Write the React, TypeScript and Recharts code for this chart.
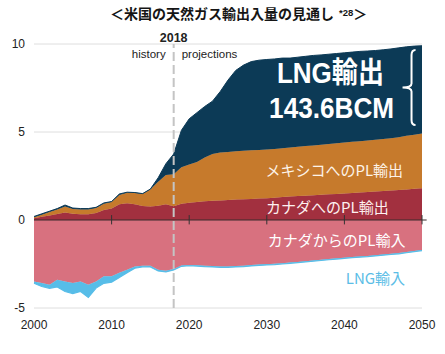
import React from "react";
import {
  AreaChart,
  Area,
  XAxis,
  YAxis,
  CartesianGrid,
  ReferenceLine,
  ReferenceDot,
} from "recharts";

const years = [
  2000, 2001, 2002, 2003, 2004, 2005, 2006, 2007, 2008, 2009,
  2010, 2011, 2012, 2013, 2014, 2015, 2016, 2017, 2018, 2019,
  2020, 2021, 2022, 2023, 2024, 2025, 2026, 2027, 2028, 2029,
  2030, 2031, 2032, 2033, 2034, 2035, 2036, 2037, 2038, 2039,
  2040, 2041, 2042, 2043, 2044, 2045, 2046, 2047, 2048, 2049,
  2050,
];

// exports (positive)
const canadaExport = [
  0.10, 0.18, 0.26, 0.34, 0.42, 0.35, 0.33, 0.33, 0.40, 0.57,
  0.66, 0.90, 0.95, 0.90, 0.80, 0.76, 0.81, 0.90, 0.78, 0.92,
  0.98, 1.02, 1.06, 1.09, 1.11, 1.14, 1.16, 1.18, 1.20, 1.22,
  1.24, 1.27, 1.30, 1.33, 1.36, 1.38, 1.41, 1.43, 1.46, 1.48,
  1.50, 1.53, 1.56, 1.59, 1.62, 1.65, 1.68, 1.71, 1.74, 1.77,
  1.80,
];
const mexicoExport = [
  0.05, 0.12, 0.19, 0.26, 0.34, 0.27, 0.27, 0.27, 0.28, 0.35,
  0.36, 0.52, 0.60, 0.63, 0.68, 0.98, 1.37, 1.66, 1.82, 2.08,
  2.17, 2.28, 2.49, 2.66, 2.72, 2.73, 2.74, 2.75, 2.76, 2.76,
  2.76, 2.77, 2.78, 2.79, 2.80, 2.82, 2.83, 2.85, 2.86, 2.88,
  2.90, 2.91, 2.92, 2.93, 2.94, 2.95, 2.97, 2.99, 3.04, 3.08,
  3.12,
];
const lngExport = [
  0.05, 0.05, 0.05, 0.05, 0.09, 0.06, 0.05, 0.05, 0.04, 0.05,
  0.03, 0.06, 0.03, 0.03, 0.02, 0.02, 0.22, 0.64, 1.15, 2.10,
  2.60, 2.80, 2.90, 3.00, 3.47, 4.08, 4.60, 4.87, 5.04, 5.10,
  5.12, 5.11, 5.12, 5.08, 5.09, 5.10, 5.11, 5.10, 5.10, 5.10,
  5.10, 5.10, 5.10, 5.08, 5.07, 5.07, 5.07, 5.08, 5.06, 5.03,
  4.98,
];

// imports (negative)
const canadaImport = [
  -3.49, -3.58, -3.68, -3.40, -3.49, -3.58, -3.49, -3.68, -3.49, -3.20,
  -3.20, -3.00, -2.83, -2.64, -2.60, -2.60, -2.83, -2.89, -2.79, -2.58,
  -2.55, -2.57, -2.60, -2.62, -2.64, -2.64, -2.62, -2.60, -2.56, -2.53,
  -2.51, -2.49, -2.46, -2.42, -2.38, -2.34, -2.30, -2.26, -2.22, -2.18,
  -2.14, -2.10, -2.07, -2.04, -2.00, -1.96, -1.92, -1.88, -1.82, -1.76,
  -1.70,
];
const lngImport = [
  -0.10, -0.20, -0.20, -0.40, -0.57, -0.60, -0.57, -0.72, -0.38, -0.40,
  -0.33, -0.27, -0.16, -0.10, -0.06, -0.07, -0.07, -0.06, -0.05, -0.05,
  -0.05, -0.05, -0.05, -0.05, -0.05, -0.05, -0.05, -0.05, -0.05, -0.05,
  -0.04, -0.04, -0.04, -0.04, -0.04, -0.04, -0.04, -0.04, -0.04, -0.04,
  -0.04, -0.04, -0.04, -0.04, -0.04, -0.04, -0.04, -0.04, -0.04, -0.04,
  -0.04,
];

const xTicks = [2000, 2010, 2020, 2030, 2040, 2050];
const yTicks = [-5, 0, 5, 10];
const zeroAxisTicks = [2010, 2020, 2030, 2040, 2050];
const HISTORY_END = 2018;

const data = years.map((year, i) => ({
  year,
  canadaExport: canadaExport[i],
  mexicoExport: mexicoExport[i],
  lngExport: lngExport[i],
  canadaImport: canadaImport[i],
  lngImport: lngImport[i],
}));

const COLORS = {
  lngExport: "#0c3a56",
  mexicoExport: "#c67a2c",
  canadaExport: "#a2303f",
  canadaImport: "#d8717f",
  lngImport: "#57bde8",
};

const LATIN = "'Liberation Sans', Arial, sans-serif";
const CJK = "'Noto Sans CJK JP', 'Noto Sans', sans-serif";

type Note = {
  x: number;
  y: number;
  text: string;
  size: number;
  fill: string;
  bold?: boolean;
  fit?: number;
};

// series labels inside the chart, anchored in data coordinates (centre / baseline)
const notes: Note[] = [
  { x: 2038.2, y: 7.78, text: "LNG輸出", size: 29, fill: "#fff", bold: true, fit: 107 },
  { x: 2038.35, y: 5.8, text: "143.6BCM", size: 29, fill: "#fff", bold: true, fit: 125 },
  { x: 2038.7, y: 2.5, text: "メキシコへのPL輸出", size: 15, fill: "#fdf3e8" },
  { x: 2037.8, y: 0.4, text: "カナダへのPL輸出", size: 15, fill: "#fdf0f0" },
  { x: 2039.0, y: -1.48, text: "カナダからのPL輸入", size: 15, fill: "#fff" },
  { x: 2044.0, y: -3.64, text: "LNG輸入", size: 15, fill: "#5bbde6" },
];

const renderNote = (note: Note) => (props: any) => {
  const { x, y } = props.viewBox;
  return (
    <text
      x={x}
      y={y}
      textAnchor="middle"
      fill={note.fill}
      fontSize={note.size}
      fontWeight={note.bold ? 700 : 400}
      fontFamily={note.bold ? `${LATIN}, ${CJK}` : CJK}
      textLength={note.fit}
      lengthAdjust={note.fit ? "spacingAndGlyphs" : undefined}
    >
      {note.text}
    </text>
  );
};

const HistoryLabel = (props: any) => {
  const { x, y } = props.viewBox;
  return (
    <g fontFamily={LATIN} fill="#222">
      <text x={x} y={y - 2} textAnchor="middle" fontWeight={700} fontSize={12.5}>
        2018
      </text>
      <text x={x - 8} y={y + 14} textAnchor="end" fontSize={11.5}>
        history
      </text>
      <text x={x + 8} y={y + 14} fontSize={11.5}>
        projections
      </text>
    </g>
  );
};

const Brace = (props: any) => {
  const { x1, y1, y2 } = props;
  const top = Math.min(y1, y2);
  const bot = Math.max(y1, y2);
  const mid = (top + bot) / 2;
  const d =
    `M${x1 + 4},${top} Q${x1},${top} ${x1},${top + 5} L${x1},${mid - 4} ` +
    `Q${x1},${mid} ${x1 - 9},${mid} Q${x1},${mid} ${x1},${mid + 4} ` +
    `L${x1},${bot - 5} Q${x1},${bot} ${x1 + 4},${bot}`;
  return <path d={d} fill="none" stroke="#fff" strokeWidth={2} />;
};

export default function App() {
  return (
    <div
      style={{
        position: "absolute",
        left: 0,
        top: 0,
        width: 445,
        height: 354,
        background: "#fff",
      }}
    >
      <div
        style={{
          position: "absolute",
          left: 110,
          top: 6,
          whiteSpace: "nowrap",
          fontFamily: CJK,
          fontWeight: 700,
          fontSize: 14,
          lineHeight: "14px",
          color: "#151515",
        }}
      >
        ＜米国の天然ガス輸出入量の見通し
        <span style={{ fontSize: 9.5, position: "relative", top: -3, marginLeft: 5, fontFamily: LATIN }}>
          *28
        </span>
        ＞
      </div>
      <AreaChart
        width={445}
        height={354}
        data={data}
        stackOffset="sign"
        margin={{ top: 44, right: 23, bottom: 16, left: 0 }}
      >
        <CartesianGrid vertical={false} stroke="#dedede" />
        <XAxis
          dataKey="year"
          type="number"
          domain={[2000, 2050]}
          ticks={xTicks}
          axisLine={false}
          tickLine={false}
          tickSize={0}
          tickMargin={12}
          height={30}
          tick={{ fontSize: 12, fill: "#222", fontFamily: LATIN }}
        />
        <YAxis
          type="number"
          domain={[-5, 10]}
          ticks={yTicks}
          axisLine={false}
          tickLine={false}
          tickSize={0}
          tickMargin={9}
          width={34}
          tick={{ fontSize: 12, fill: "#222", fontFamily: LATIN }}
        />
        <Area
          type="linear"
          dataKey="canadaExport"
          stackId="trade"
          fill={COLORS.canadaExport}
          fillOpacity={1}
          stroke={COLORS.canadaExport}
          strokeWidth={0.5}
          isAnimationActive={false}
        />
        <Area
          type="linear"
          dataKey="mexicoExport"
          stackId="trade"
          fill={COLORS.mexicoExport}
          fillOpacity={1}
          stroke={COLORS.mexicoExport}
          strokeWidth={0.5}
          isAnimationActive={false}
        />
        <Area
          type="linear"
          dataKey="lngExport"
          stackId="trade"
          fill={COLORS.lngExport}
          fillOpacity={1}
          stroke={COLORS.lngExport}
          strokeWidth={1}
          isAnimationActive={false}
        />
        <Area
          type="linear"
          dataKey="canadaImport"
          stackId="trade"
          fill={COLORS.canadaImport}
          fillOpacity={1}
          stroke={COLORS.canadaImport}
          strokeWidth={0.5}
          isAnimationActive={false}
        />
        <Area
          type="linear"
          dataKey="lngImport"
          stackId="trade"
          fill={COLORS.lngImport}
          fillOpacity={1}
          stroke={COLORS.lngImport}
          strokeWidth={1.2}
          isAnimationActive={false}
        />
        <ReferenceLine
          segment={[
            { x: 2000, y: 0 },
            { x: 2050.6, y: 0 },
          ]}
          stroke="#3a2a2c"
          strokeWidth={1}
          ifOverflow="visible"
        />
        {zeroAxisTicks.map((t) => (
          <ReferenceLine
            key={t}
            segment={[
              { x: t, y: 0.28 },
              { x: t, y: -0.25 },
            ]}
            stroke="#333"
            strokeWidth={1}
            ifOverflow="visible"
          />
        ))}
        <ReferenceLine
          x={HISTORY_END}
          stroke="#c4c4c4"
          strokeWidth={2}
          strokeDasharray="9 4"
          label={HistoryLabel}
        />
        <ReferenceLine
          segment={[
            { x: 2048.65, y: 9.66 },
            { x: 2048.65, y: 5.4 },
          ]}
          shape={Brace}
        />
        {notes.map((n) => (
          <ReferenceDot
            key={n.text}
            x={n.x}
            y={n.y}
            r={0}
            fill="none"
            stroke="none"
            label={renderNote(n)}
          />
        ))}
      </AreaChart>
    </div>
  );
}
